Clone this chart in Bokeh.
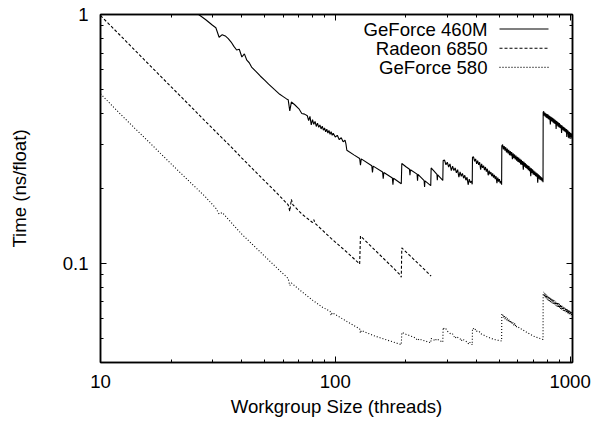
from bokeh.plotting import figure
from bokeh.models import LogAxis, FixedTicker, CustomJSTickFormatter, Label, Arrow
from bokeh.embed import file_html
from bokeh.resources import INLINE

FONT = "Liberation Sans"
FS = "18.6px"

# ---- axis ticks / labels ----
x_major_ticks = [10, 100, 1000]
x_minor_ticks = [20, 30, 40, 50, 60, 70, 80, 90, 200, 300, 400, 500, 600, 700, 800, 900]
y_major_ticks = [0.1, 1]
y_minor_ticks = [0.04, 0.05, 0.06, 0.07, 0.08, 0.09, 0.2, 0.3, 0.4, 0.5, 0.6, 0.7, 0.8, 0.9]
x_title = "Workgroup Size (threads)"
y_title = "Time (ns/float)"
series_names = ["GeForce 460M", "Radeon 6850", "GeForce 580"]

# ---- GeForce 460M ----
gf460m_x = [25, 26, 28, 30, 31, 32, 33, 34, 35, 36, 37, 38, 39, 40, 41, 42, 43, 44, 46, 48, 50, 52, 55, 58, 60, 62, 63, 64, 65, 67, 70, 72, 74, 76, 77, 78, 79, 80, 81, 82, 83, 84, 85, 86, 87, 88, 89, 90, 91, 92, 93, 94, 95, 96, 97, 98, 100, 102, 104, 106, 108, 110, 111, 112, 120, 127, 128, 129, 143, 144, 145, 159, 160, 161, 175, 176, 177, 191,
            192, 200, 207, 208, 209, 223, 224, 225, 239, 240, 241, 255,
            256, 264, 271, 272, 273, 287,
            288, 292, 296, 300, 304, 308, 312, 316, 320, 324, 328, 332, 336, 340, 344, 348, 352, 356, 360, 364, 368, 372, 376, 380, 383,
            384, 388, 392, 396, 400, 404, 408, 412, 416, 420, 424, 428, 432, 436, 440, 444, 448, 452, 456, 460, 464, 468, 472, 476, 480, 484, 488, 492, 496, 500, 504, 508, 511,
            512, 516, 520, 524, 528, 532, 536, 540, 544, 548, 552, 556, 560, 564, 568, 572, 576, 580, 584, 588, 592, 596, 600, 604, 608, 612, 616, 620, 624, 628, 632, 636, 640, 644, 648, 652, 656, 660, 664, 668, 672, 676, 680, 684, 688, 692, 696, 700, 704, 708, 712, 716, 720, 724, 728, 732, 736, 740, 744, 748, 752, 756, 760, 764, 767,
            768, 772, 776, 780, 784, 788, 792, 796, 800, 804, 808, 812, 816, 820, 824, 828, 832, 836, 840, 844, 848, 852, 856, 860, 864, 868, 872, 876, 880, 884, 888, 892, 896, 900, 904, 908, 912, 916, 920, 924, 928, 932, 936, 940, 944, 948, 952, 956, 960, 964, 968, 972, 976, 980, 984, 988, 992, 996, 1000, 1004, 1008, 1012, 1016, 1020, 1024]
gf460m_y = [1.03, 1.005, 0.955, 0.905, 0.885, 0.81, 0.83, 0.82, 0.80, 0.775, 0.745, 0.72, 0.725, 0.675, 0.695, 0.655, 0.64, 0.615, 0.59, 0.565, 0.545, 0.525, 0.50, 0.478, 0.468, 0.458, 0.455, 0.41, 0.445, 0.435, 0.418, 0.40, 0.398, 0.392, 0.375, 0.39, 0.36, 0.378, 0.362, 0.372, 0.355, 0.366, 0.352, 0.36, 0.347, 0.356, 0.343, 0.350, 0.338, 0.346, 0.334, 0.342, 0.330, 0.338, 0.327, 0.333, 0.322, 0.327, 0.314, 0.320, 0.308, 0.313, 0.302, 0.285, 0.273, 0.264, 0.248, 0.263, 0.247, 0.232, 0.246, 0.233, 0.219, 0.232, 0.2205, 0.207, 0.220, 0.209,
            0.252, 0.2446, 0.239, 0.226, 0.238, 0.2284, 0.215, 0.228, 0.215, 0.203, 0.2145, 0.2054,
            0.242, 0.2345, 0.228, 0.216, 0.227, 0.2155,
            0.259, 0.260, 0.249, 0.255, 0.244, 0.251, 0.236, 0.246, 0.236, 0.242, 0.231, 0.238, 0.222, 0.233, 0.224, 0.230, 0.220, 0.226, 0.216, 0.222, 0.207, 0.218, 0.211, 0.214, 0.208,
            0.267, 0.268, 0.257, 0.263, 0.251, 0.259, 0.249, 0.255, 0.238, 0.251, 0.242, 0.247, 0.237, 0.244, 0.234, 0.240, 0.226, 0.236, 0.228, 0.233, 0.224, 0.230, 0.221, 0.227, 0.218, 0.224, 0.210, 0.221, 0.213, 0.218, 0.210, 0.214, 0.207,
            0.297, 0.300, 0.287, 0.296, 0.284, 0.293, 0.279, 0.289, 0.277, 0.286, 0.272, 0.283, 0.271, 0.280, 0.262, 0.277, 0.265, 0.274, 0.262, 0.271, 0.259, 0.268, 0.256, 0.266, 0.254, 0.263, 0.250, 0.261, 0.249, 0.258, 0.238, 0.256, 0.245, 0.253, 0.242, 0.250, 0.240, 0.248, 0.237, 0.246, 0.235, 0.243, 0.224, 0.241, 0.231, 0.239, 0.228, 0.236, 0.227, 0.234, 0.224, 0.232, 0.223, 0.230, 0.211, 0.228, 0.219, 0.226, 0.217, 0.224, 0.216, 0.222, 0.214, 0.220, 0.212,
            0.405, 0.408, 0.392, 0.404, 0.389, 0.401, 0.385, 0.398, 0.383, 0.397, 0.380, 0.394, 0.378, 0.391, 0.362, 0.388, 0.373, 0.386, 0.371, 0.384, 0.368, 0.381, 0.365, 0.378, 0.363, 0.376, 0.347, 0.373, 0.358, 0.371, 0.355, 0.368, 0.353, 0.366, 0.351, 0.362, 0.349, 0.360, 0.334, 0.358, 0.345, 0.355, 0.342, 0.353, 0.340, 0.351, 0.338, 0.348, 0.336, 0.347, 0.322, 0.344, 0.332, 0.342, 0.320, 0.339, 0.318, 0.337, 0.322, 0.334, 0.316, 0.333, 0.321, 0.331, 0.322]

# ---- Radeon 6850 ----
radeon_x = [10, 12, 14, 16, 20, 24, 28, 32, 36, 40, 48, 56, 63, 64, 65, 66, 72, 80, 81, 82, 96, 112, 127,
            128, 144, 160, 176, 190, 191,
            192, 208, 224, 240, 256]
radeon_y = [0.99, 0.833, 0.719, 0.633, 0.512, 0.431, 0.372, 0.328, 0.294, 0.265, 0.223, 0.193, 0.172, 0.162, 0.181, 0.172, 0.158, 0.146, 0.150, 0.145, 0.126, 0.111, 0.0995,
            0.129, 0.1157, 0.105, 0.0962, 0.0895, 0.0880,
            0.1155, 0.1074, 0.1005, 0.0945, 0.0889]

# ---- GeForce 580 ----
gf580_x = [10, 12, 14, 16, 20, 24, 28, 31, 32, 33, 40, 48, 56, 63, 64, 65, 72, 80, 88, 95, 96, 97, 112, 127, 128, 129, 144, 160, 176, 191,
           192, 196, 200, 204, 208, 212, 216, 220, 224, 228, 232, 240, 248, 255,
           256, 262, 266, 270, 276, 282, 287,
           288, 292, 296, 300, 304, 308, 312, 316, 320, 324, 328, 334, 340, 344, 348, 356, 364, 370, 374, 380, 383,
           384, 388, 392, 396, 400, 408, 412, 416, 424, 432, 440, 448, 456, 464, 472, 480, 488, 496, 504, 511,
           512, 516, 520, 524, 528, 532, 536, 540, 544, 548, 552, 556, 560, 564, 568, 572, 576, 580, 584, 588, 592, 600, 608, 616, 624, 632, 640, 648, 656, 672, 688, 704, 720, 736, 752, 767,
           768, 772, 776, 780, 784, 788, 792, 796, 800, 804, 808, 812, 816, 820, 824, 828, 832, 836, 840, 844, 848, 852, 856, 860, 864, 868, 872, 876, 880, 884, 888, 892, 896, 900, 904, 908, 912, 916, 920, 924, 928, 932, 936, 940, 944, 948, 952, 956, 960, 964, 968, 972, 976, 980, 984, 988, 992, 996, 1000, 1004, 1008, 1012, 1016, 1020, 1024]
gf580_y = [0.48, 0.403, 0.349, 0.309, 0.251, 0.2127, 0.185, 0.1665, 0.158, 0.160, 0.131, 0.111, 0.0966, 0.087, 0.0815, 0.0835, 0.0770, 0.0712, 0.0668, 0.0642, 0.0618, 0.0634, 0.0585, 0.0546, 0.0525, 0.0538, 0.0515, 0.0498, 0.0484, 0.0472,
           0.0528, 0.0524, 0.0519, 0.0516, 0.0512, 0.0509, 0.0505, 0.0502, 0.0490, 0.0498, 0.0494, 0.0489, 0.0484, 0.0480,
           0.0500, 0.0495, 0.0488, 0.0498, 0.0492, 0.0487, 0.0483,
           0.0553, 0.0543, 0.0546, 0.0534, 0.0530, 0.0524, 0.0519, 0.0521, 0.0510, 0.0500, 0.0509, 0.0503, 0.0498, 0.0488, 0.0497, 0.0490, 0.0484, 0.0474, 0.0482, 0.0477, 0.0471,
           0.0549, 0.0547, 0.0539, 0.0545, 0.0535, 0.0529, 0.0531, 0.0523, 0.0518, 0.0514, 0.0509, 0.0505, 0.0502, 0.0499, 0.0496, 0.0494, 0.0492, 0.0491, 0.0490, 0.0488,
           0.0626, 0.0628, 0.0606, 0.0619, 0.0598, 0.0612, 0.0592, 0.0604, 0.0586, 0.0598, 0.0580, 0.0592, 0.0575, 0.0586, 0.0569, 0.0580, 0.0564, 0.0574, 0.0560, 0.0568, 0.0556, 0.0558, 0.0550, 0.0548, 0.0542, 0.0540, 0.0535, 0.0532, 0.0527, 0.0521, 0.0515, 0.0509, 0.0505, 0.0501, 0.0498, 0.0495,
           0.0753, 0.0768, 0.0735, 0.0760, 0.0727, 0.0754, 0.0722, 0.0748, 0.0716, 0.0743, 0.0710, 0.0738, 0.0706, 0.0733, 0.0700, 0.0727, 0.0697, 0.0722, 0.0692, 0.0718, 0.0688, 0.0713, 0.0683, 0.0708, 0.0680, 0.0704, 0.0675, 0.0700, 0.0672, 0.0696, 0.0668, 0.0692, 0.0664, 0.0688, 0.0660, 0.0684, 0.0657, 0.0680, 0.0653, 0.0676, 0.0650, 0.0672, 0.0646, 0.0669, 0.0643, 0.0665, 0.0640, 0.0662, 0.0637, 0.0658, 0.0634, 0.0655, 0.0631, 0.0652, 0.0628, 0.0648, 0.0625, 0.0645, 0.0622, 0.0642, 0.0619, 0.0639, 0.0616, 0.0636, 0.0620]

series_x = [gf460m_x, radeon_x, gf580_x]
series_y = [gf460m_y, radeon_y, gf580_y]
series_dash = ["solid", "3 2", "1 2"]

p = figure(width=604, height=421, x_axis_type="log", y_axis_type="log",
           x_range=(10, 1024), y_range=(0.04, 1),
           output_backend="svg", toolbar_location=None,
           min_border_left=100, min_border_right=32, min_border_top=14, min_border_bottom=59)
p.xgrid.visible = False
p.ygrid.visible = False
p.outline_line_color = "black"
p.outline_line_width = 1.5
p.background_fill_color = "white"
p.border_fill_color = "white"

fmt = CustomJSTickFormatter(code="return String(tick)")

def style_axis(ax, labels=True):
    ax.major_tick_in = 6
    ax.major_tick_out = 0
    ax.minor_tick_in = 3
    ax.minor_tick_out = 0
    ax.major_tick_line_color = "black"
    ax.minor_tick_line_color = "black"
    ax.axis_line_color = "black"
    ax.axis_line_width = 1.5
    ax.major_label_text_font = FONT
    ax.major_label_text_font_size = FS
    ax.major_label_text_color = "black" if labels else None
    ax.axis_label_text_font = FONT
    ax.axis_label_text_font_size = FS
    ax.axis_label_text_font_style = "normal"
    ax.axis_label_text_color = "black"

xa = p.xaxis[0]
xa.ticker = FixedTicker(ticks=x_major_ticks, minor_ticks=x_minor_ticks)
xa.formatter = fmt
style_axis(xa)
xa.major_label_standoff = 12
xa.axis_label = x_title
xa.axis_label_standoff = 5

ya = p.yaxis[0]
ya.ticker = FixedTicker(ticks=y_major_ticks, minor_ticks=y_minor_ticks)
ya.formatter = fmt
style_axis(ya)
ya.major_label_standoff = 12
ya.axis_label = y_title
ya.axis_label_standoff = 30

top = LogAxis(ticker=FixedTicker(ticks=x_major_ticks, minor_ticks=x_minor_ticks),
              major_label_overrides={t: "" for t in x_major_ticks})
style_axis(top, labels=False)
top.major_label_standoff = 0
p.add_layout(top, "above")
right = LogAxis(ticker=FixedTicker(ticks=y_major_ticks, minor_ticks=y_minor_ticks),
                major_label_overrides={t: "" for t in y_major_ticks})
style_axis(right, labels=False)
right.major_label_standoff = 0
p.add_layout(right, "right")

for xs, ys, dash in zip(series_x, series_y, series_dash):
    p.line(xs, ys, line_color="black", line_width=1.1, line_dash=dash)

# legend (gnuplot style: text then sample line), frame-relative screen units
frame_h = 348
for i, (name, dash) in enumerate(zip(series_names, series_dash)):
    yy = frame_h - 14.5 - 19.2 * i
    p.add_layout(Label(x=387, y=yy, x_units="screen", y_units="screen", text=name,
                       text_align="right", text_baseline="middle",
                       text_font=FONT, text_font_size=FS, text_color="black"))
    p.add_layout(Arrow(end=None, x_start=399, y_start=yy, x_end=448, y_end=yy,
                       start_units="screen", end_units="screen",
                       line_color="black", line_width=1.1, line_dash=dash))

open("out.html", "w").write(file_html(p, INLINE))
